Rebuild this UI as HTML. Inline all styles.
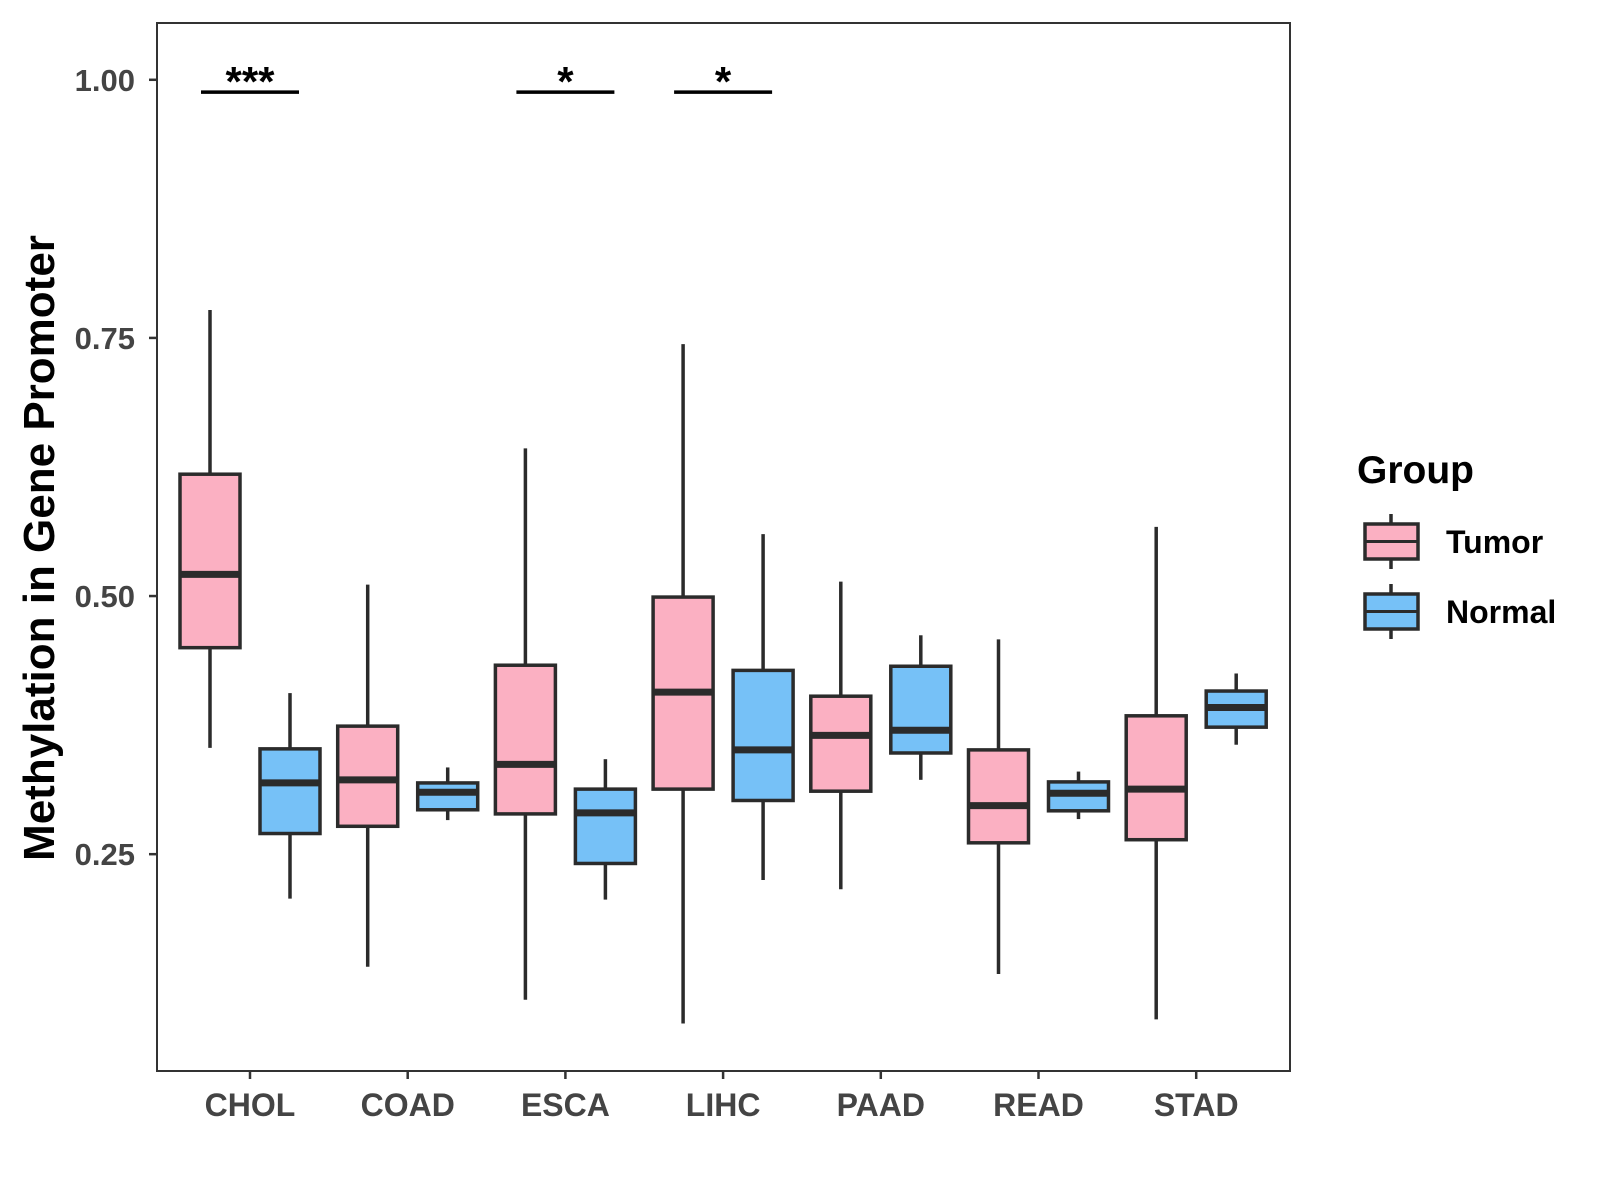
<!DOCTYPE html>
<html><head><meta charset="utf-8">
<style>
html,body{margin:0;padding:0;background:#fff;}
svg{display:block;font-family:"Liberation Sans",Arial,sans-serif;}
</style></head>
<body>
<svg id="chart" width="1600" height="1200" viewBox="0 0 1600 1200"></svg>
<script>
const categories = ["CHOL","COAD","ESCA","LIHC","PAAD","READ","STAD"];
// [whiskerLow, Q1, median, Q3, whiskerHigh]
const tumorStats = [
  [0.353,0.450,0.521,0.618,0.777],
  [0.141,0.277,0.322,0.374,0.511],
  [0.109,0.289,0.337,0.433,0.643],
  [0.086,0.313,0.407,0.499,0.744],
  [0.216,0.311,0.365,0.403,0.514],
  [0.134,0.261,0.297,0.351,0.458],
  [0.090,0.264,0.313,0.384,0.567]
];
const normalStats = [
  [0.207,0.270,0.319,0.352,0.406],
  [0.283,0.293,0.310,0.319,0.334],
  [0.206,0.241,0.290,0.313,0.342],
  [0.225,0.302,0.351,0.428,0.560],
  [0.322,0.348,0.370,0.432,0.462],
  [0.284,0.292,0.309,0.320,0.330],
  [0.356,0.373,0.392,0.408,0.425]
];
const yTicks = [0.25,0.50,0.75,1.00];
const yTickLabels = ["0.25","0.50","0.75","1.00"];
const sigCategories = ["CHOL","ESCA","LIHC"];
const sigLabels = ["***","*","*"];
const sigLevel = 0.988;

const NS="http://www.w3.org/2000/svg";
const svg=document.getElementById('chart');
const P={l:157,r:1290,t:23,b:1071};
const yMin=0.040, yMax=1.055;
function y(v){return P.b-(v-yMin)/(yMax-yMin)*(P.b-P.t);}
function x(i){return 250+i*157.7;}
function el(tag,attrs,parent){const e=document.createElementNS(NS,tag);for(const k in attrs)e.setAttribute(k,attrs[k]);(parent||svg).appendChild(e);return e;}

const panel=el('rect',{x:P.l,y:P.t,width:P.r-P.l,height:P.b-P.t,fill:'#fff',stroke:'#333','stroke-width':2});



yTicks.forEach((v,i)=>{
  const t=el('line',{x1:P.l-8,x2:P.l,y1:y(v),y2:y(v),stroke:'#333','stroke-width':2.5});
  
  
  const tx=el('text',{x:P.l-22,y:y(v)+11,'text-anchor':'end','font-size':31,'font-weight':'bold',fill:'#444'});
  tx.textContent=yTickLabels[i];
  
  
});
categories.forEach((c,i)=>{
  const t=el('line',{x1:x(i),x2:x(i),y1:P.b,y2:P.b+8,stroke:'#333','stroke-width':2.5});
  
  
  const tx=el('text',{x:x(i),y:P.b+45,'text-anchor':'middle','font-size':32,'font-weight':'bold',fill:'#444'});
  tx.textContent=c;
  
  
});

function box(cx,s,fill,name){
  const g=el('g',{});
  
  
  const hw=30;
  el('line',{x1:cx,x2:cx,y1:y(s[4]),y2:y(s[3]),stroke:'#2b2b2b','stroke-width':3.5},g);
  el('line',{x1:cx,x2:cx,y1:y(s[1]),y2:y(s[0]),stroke:'#2b2b2b','stroke-width':3.5},g);
  el('rect',{x:cx-hw,y:y(s[3]),width:hw*2,height:y(s[1])-y(s[3]),fill:fill,stroke:'#2b2b2b','stroke-width':3.5},g);
  el('line',{x1:cx-hw,x2:cx+hw,y1:y(s[2]),y2:y(s[2]),stroke:'#2b2b2b','stroke-width':7},g);
}
categories.forEach((c,i)=>{
  box(x(i)-40,tumorStats[i],'#fbb0c2','box-tumor-'+c.toLowerCase());
  box(x(i)+40,normalStats[i],'#76c1f7','box-normal-'+c.toLowerCase());
});

sigCategories.forEach((c,k)=>{
  const i=categories.indexOf(c);
  const l=el('line',{x1:x(i)-49,x2:x(i)+49,y1:y(sigLevel),y2:y(sigLevel),stroke:'#000','stroke-width':3.5});
  
  
  const t=el('text',{x:x(i),y:y(sigLevel)+4,'text-anchor':'middle','font-size':42,'font-weight':'bold',fill:'#000'});
  t.textContent=sigLabels[k];
  
  
});

const yt=el('text',{x:0,y:0,'text-anchor':'middle','font-size':44,'font-weight':'bold',fill:'#000',transform:'translate(54,548) rotate(-90)'});
yt.textContent='Methylation in Gene Promoter';



const lt=el('text',{x:1357,y:483,'font-size':39,'font-weight':'bold',fill:'#000'});
lt.textContent='Group';


[['Tumor','#fbb0c2',524],['Normal','#76c1f7',594]].forEach(([lab,fill,top])=>{
  const g=el('g',{});
  
  
  const cx=1391;
  el('line',{x1:cx,x2:cx,y1:top-10,y2:top+45,stroke:'#2b2b2b','stroke-width':3.5},g);
  el('rect',{x:1365,y:top,width:53,height:35,fill:fill,stroke:'#2b2b2b','stroke-width':3.5},g);
  el('line',{x1:1365,x2:1418,y1:top+17.5,y2:top+17.5,stroke:'#2b2b2b','stroke-width':3},g);
  const t=el('text',{x:1446,y:top+29,'font-size':32,'font-weight':'bold',fill:'#000'},g);
  t.textContent=lab;
});
</script>
</body></html>
